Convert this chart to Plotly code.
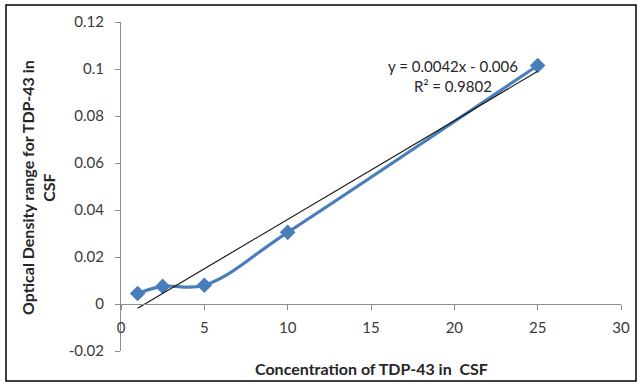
import plotly.graph_objects as go

conc = [1, 2.5, 5, 10, 25]
od = [0.0045, 0.0075, 0.008, 0.0305, 0.1015]
slope = 0.0042
intercept = -0.006
trend_x = [1, 25]
trend_y = [slope * x + intercept for x in trend_x]

y_tickvals = [-0.02, 0, 0.02, 0.04, 0.06, 0.08, 0.1, 0.12]
y_ticktext = ["-0.02", "0", "0.02", "0.04", "0.06", "0.08", "0.1", "0.12"]
x_tickvals = [0, 5, 10, 15, 20, 25, 30]
x_ticktext = ["0", "5", "10", "15", "20", "25", "30"]

W, H = 641, 387
L, R, T, B = 121, 20, 22, 36
pw, ph = W - L - R, H - T - B

FONT = "Lato, 'Open Sans', sans-serif"
AX = "#8c8c8c"

fig = go.Figure()
fig.add_trace(go.Scatter(
    x=conc, y=od, mode="lines+markers",
    line=dict(color="#4a7ebb", width=3.2, shape="spline", smoothing=1.1),
    marker=dict(symbol="diamond", size=12, color="#4a7ebb"),
    showlegend=False))
fig.add_trace(go.Scatter(
    x=trend_x, y=trend_y, mode="lines",
    line=dict(color="#1a1a1a", width=1.2), showlegend=False))

fig.update_layout(
    width=W, height=H,
    margin=dict(l=L, r=R, t=T, b=B),
    paper_bgcolor="white", plot_bgcolor="white",
    font=dict(family=FONT, size=15, color="#3a3a3a"),
    xaxis=dict(range=[0, 30], tickvals=x_tickvals, ticktext=x_ticktext,
               showgrid=False, zeroline=False, showline=True, linecolor=AX,
               linewidth=1, ticks="outside", ticklen=5, tickcolor=AX,
               anchor="free", position=0.02 / 0.14, ticklabelstandoff=5),
    yaxis=dict(range=[-0.02, 0.12], tickvals=y_tickvals, ticktext=y_ticktext,
               showgrid=False, zeroline=False, showline=True, linecolor=AX,
               linewidth=1, ticks="outside", ticklen=5, tickcolor=AX,
               ticklabelstandoff=8),
    annotations=[
        dict(text="<b>Concentration of TDP-43 in  CSF</b>", xref="paper", yref="paper",
             x=0.5, y=(H - 368 - B) / ph, showarrow=False, xanchor="center", yanchor="middle",
             font=dict(size=16, color="#262626")),
        dict(text="<b>Optical Density range for TDP-43 in<br>CSF</b>", xref="paper", yref="paper",
             x=(38 - L) / pw, y=(H - 188 - B) / ph, textangle=-90, showarrow=False,
             xanchor="center", yanchor="middle",
             font=dict(size=16, color="#262626")),
        dict(text="y = 0.0042x - 0.006<br>R² = 0.9802", x=19.9, y=0.097, xref="x", yref="y",
             showarrow=False, font=dict(size=15, color="#262626"), align="center",
             xanchor="center", yanchor="middle"),
    ],
    shapes=[dict(type="rect", xref="paper", yref="paper",
                 x0=(6 - L) / pw, x1=(636 - L) / pw,
                 y0=(H - 381 - B) / ph, y1=(H - 5 - B) / ph,
                 line=dict(color="black", width=1.5))],
)

fig.write_html("out.html")
